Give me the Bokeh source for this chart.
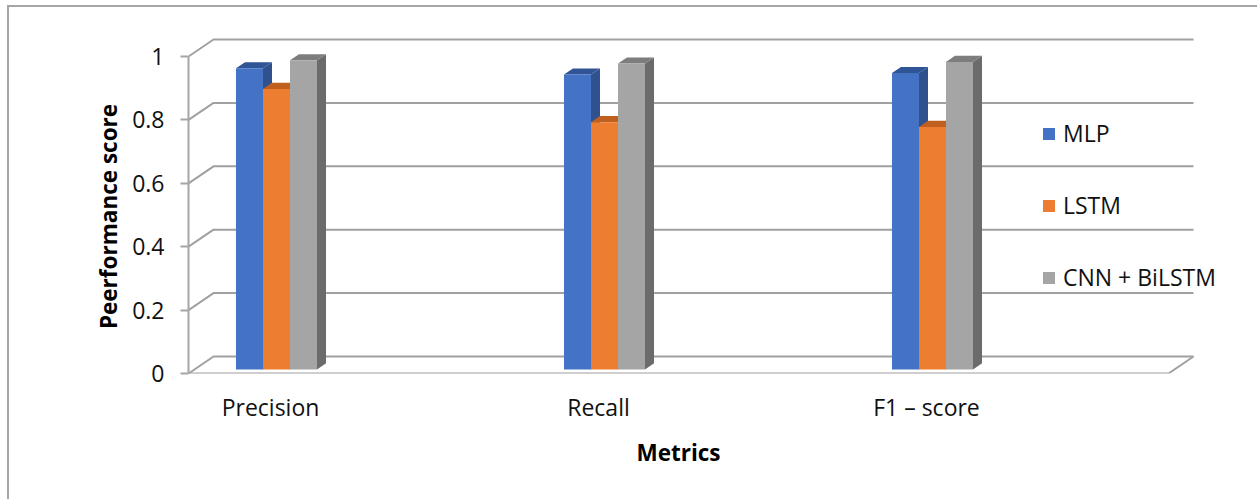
from bokeh.plotting import figure
from bokeh.models import Range1d, LinearAxis, FixedTicker, Legend, LegendItem
from bokeh.embed import file_html
from bokeh.resources import INLINE

# ---------------- data ----------------
categories = ["Precision", "Recall", "F1 \u2013 score"]
series_names = ["MLP", "LSTM", "CNN + BiLSTM"]
mlp = [0.95, 0.93, 0.935]
lstm = [0.885, 0.78, 0.765]
cnn_bilstm = [0.975, 0.965, 0.97]
y_ticks = [0, 0.2, 0.4, 0.6, 0.8, 1.0]
y_tick_labels = ["0", "0.2", "0.4", "0.6", "0.8", "1"]
x_title = "Metrics"
y_title = "Peerformance score"

# ---------------- styles ----------------
front_colors = ["#4472c4", "#ed7d31", "#a5a5a5"]
side_colors = ["#2f528f", "#ae5a21", "#6b6b6b"]
top_colors = ["#2f5597", "#c0601f", "#7d7d7d"]
grid_color = "#a0a0a0"
FONT = "Open Sans"
LABEL_SIZE = "23px"
TITLE_SIZE = "22.5px"

# ---------------- layout (pixels) ----------------
W, H = 1257, 499
FR_L, FR_R, FR_T, FR_B = 188, 1250, 20, 373
PX_Y = 317.0          # pixels per 1.0 of score
CAT0, CAT_STEP = 270.0, 328.0
FLOOR_END_PX = 1168
DX = 25.0 / CAT_STEP   # depth offset of back wall (data units)
DY = 17.0 / PX_Y
BAR_W = 27.0 / CAT_STEP
BAR_D0 = 0.24          # depth of bar front face
BAR_DD = 0.36          # bar thickness in depth

x0 = (FR_L - CAT0) / CAT_STEP
x1 = (FR_R - CAT0) / CAT_STEP
xf = (FLOOR_END_PX - CAT0) / CAT_STEP

p = figure(width=W, height=H, output_backend="svg", toolbar_location=None,
           x_range=Range1d(x0, x1), y_range=Range1d(0, (FR_B - FR_T) / PX_Y),
           min_border_left=FR_L, min_border_right=W - FR_R,
           min_border_top=FR_T, min_border_bottom=H - FR_B,
           x_axis_location=None, y_axis_location=None)
p.grid.visible = False
p.outline_line_color = None
p.background_fill_color = "white"
p.border_fill_color = None
# outer chart border (top + left edges), drawn behind the transparent border area
p.styles = {
    "background": "linear-gradient(#a6a6a6, #a6a6a6) 7px 5px / 2px calc(100% - 5px) no-repeat, "
                  "linear-gradient(#a6a6a6, #a6a6a6) 7px 5px / calc(100% - 7px) 2px no-repeat, "
                  "#ffffff"
}

# walls: left-wall diagonals + back-wall gridlines
wx, wy = [], []
for t in y_ticks:
    wx.append([x0, x0 + DX, xf + DX])
    wy.append([t, t + DY, t + DY])
p.multi_line(wx, wy, line_color=grid_color, line_width=2)
# floor front edge + right edge
p.line([x0, xf, xf + DX], [0, 0, DY], line_color=grid_color, line_width=2)

# bars (3D)
values = [mlp, lstm, cnn_bilstm]
side_xs, side_ys, side_c = [], [], []
top_xs, top_ys, top_c = [], [], []
fronts = []
for j, vals in enumerate(values):
    L, R, B, T = [], [], [], []
    for i, v in enumerate(vals):
        l = i - 1.5 * BAR_W + j * BAR_W + BAR_D0 * DX
        r = l + BAR_W
        b = BAR_D0 * DY
        t = v + b
        ox, oy = BAR_DD * DX, BAR_DD * DY
        side_xs.append([r, r + ox, r + ox, r]); side_ys.append([b, b + oy, t + oy, t]); side_c.append(side_colors[j])
        top_xs.append([l, r, r + ox, l + ox]); top_ys.append([t, t, t + oy, t + oy]); top_c.append(top_colors[j])
        L.append(l); R.append(r); B.append(b); T.append(t)
    fronts.append((L, R, B, T))

p.patches(side_xs, side_ys, fill_color=side_c, line_color=None)
p.patches(top_xs, top_ys, fill_color=top_c, line_color=None)
items = []
for j, (L, R, B, T) in enumerate(fronts):
    r = p.quad(left=L, right=R, bottom=B, top=T, fill_color=front_colors[j], line_color=None)
    items.append(LegendItem(label=series_names[j], renderers=[r]))

legend = Legend(items=items, location=(853, 80), orientation="vertical",
                glyph_width=15, glyph_height=15, label_height=32, spacing=40,
                label_standoff=7, padding=0, margin=0,
                border_line_alpha=0, background_fill_alpha=0,
                label_text_font=FONT, label_text_font_size=LABEL_SIZE, label_text_color="#111111")
p.add_layout(legend, "center")

# y axis (front)
ya = LinearAxis(ticker=FixedTicker(ticks=y_ticks),
                major_label_overrides={t: s for t, s in zip(y_ticks, y_tick_labels)},
                bounds=(0, 1), axis_line_color="#a6a6a6", axis_line_width=2,
                major_tick_line_color="#a6a6a6", major_tick_line_width=2,
                major_tick_in=0, major_tick_out=8, minor_tick_line_color=None,
                major_label_standoff=16, major_label_text_font=FONT,
                major_label_text_font_size=LABEL_SIZE, major_label_text_color="#111111")
p.add_layout(ya, "left")
# y title
yt_pos = (FR_B - 216) / PX_Y
yt = LinearAxis(ticker=FixedTicker(ticks=[yt_pos]), major_label_overrides={yt_pos: y_title},
                axis_line_color=None, major_tick_line_color=None, minor_tick_line_color=None,
                major_tick_out=0, major_tick_in=0, major_label_standoff=6,
                major_label_orientation="vertical",
                major_label_text_font=FONT, major_label_text_font_size=TITLE_SIZE,
                major_label_text_font_style="bold", major_label_text_color="#000000")
p.add_layout(yt, "left")

# x axis (categories)
xa = LinearAxis(ticker=FixedTicker(ticks=list(range(len(categories)))),
                major_label_overrides={i: c for i, c in enumerate(categories)},
                axis_line_color=None, major_tick_line_color=None, minor_tick_line_color=None,
                major_tick_out=0, major_tick_in=0, major_label_standoff=17,
                major_label_text_font=FONT, major_label_text_font_size=LABEL_SIZE,
                major_label_text_color="#111111")
p.add_layout(xa, "below")
xt_pos = (678 - CAT0) / CAT_STEP
xt = LinearAxis(ticker=FixedTicker(ticks=[xt_pos]), major_label_overrides={xt_pos: x_title},
                axis_line_color=None, major_tick_line_color=None, minor_tick_line_color=None,
                major_tick_out=0, major_tick_in=0, major_label_standoff=11,
                major_label_text_font=FONT, major_label_text_font_size=TITLE_SIZE,
                major_label_text_font_style="bold", major_label_text_color="#000000")
p.add_layout(xt, "below")

open("out.html", "w").write(file_html(p, INLINE))
